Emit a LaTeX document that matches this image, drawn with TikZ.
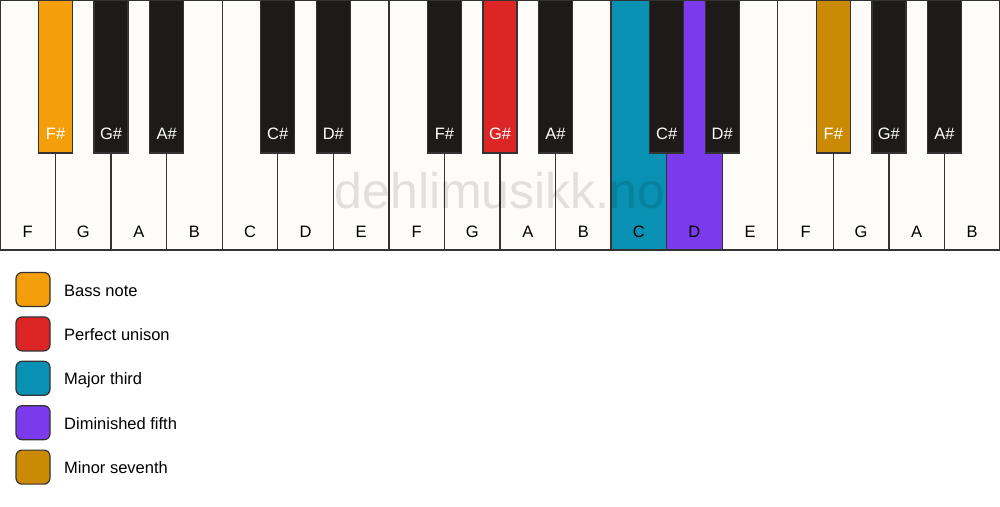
\documentclass[tikz,border=0pt]{standalone}
\usepackage{fontspec}
\setmainfont{Liberation Sans}
\definecolor{wkeyc}{HTML}{FDFCF8}
\definecolor{bkeyc}{HTML}{1C1B1A}
\definecolor{edgec}{HTML}{333333}
\definecolor{bassc}{HTML}{F59E0B}
\definecolor{unisc}{HTML}{DC2626}
\definecolor{thirdc}{HTML}{0891B2}
\definecolor{fifthc}{HTML}{7C3AED}
\definecolor{sevc}{HTML}{CA8A04}
\tikzset{
  wkey/.style={draw=edgec, line width=1.3pt, fill=wkeyc, minimum width=55.556pt, minimum height=250pt, anchor=north west, inner sep=0pt, outer sep=0pt},
  bkey/.style={draw=edgec, line width=1.3pt, fill=bkeyc, minimum width=34pt, minimum height=153pt, anchor=north, inner sep=0pt, outer sep=0pt},
  wlab/.style={font=\fontsize{16.5}{16.5}\selectfont, text=black, inner sep=0pt, anchor=base},
  blab/.style={font=\fontsize{16.5}{16.5}\selectfont, text=white, inner sep=0pt, anchor=base},
  legbox/.style={draw=edgec, line width=1.2pt, rounded corners=6pt, minimum width=34pt, minimum height=34pt, inner sep=0pt},
  legtext/.style={font=\fontsize{16.5}{16.5}\selectfont, anchor=base west, inner sep=0pt},
}
\begin{document}
\begin{tikzpicture}[x=1pt,y=-1pt]
\useasboundingbox (0,0) rectangle (1000,506);
\fill[white] (0,0) rectangle (1000,506);
% white keys
\foreach \n/\c [count=\i from 0] in {F/wkeyc,G/wkeyc,A/wkeyc,B/wkeyc,C/wkeyc,D/wkeyc,E/wkeyc,F/wkeyc,G/wkeyc,A/wkeyc,B/wkeyc,C/thirdc,D/fifthc,E/wkeyc,F/wkeyc,G/wkeyc,A/wkeyc,B/wkeyc}{
  \node[wkey, fill=\c] (w\i) at ({\i*55.5556},0) {};
  \node[wlab] (wl\i) at ({\i*55.5556+27.778},237) {\n};
}
% watermark
\node[font=\fontsize{50}{50}\selectfont, text=black, opacity=0.11, inner sep=0pt, anchor=base] (wm) at (500,208) {dehlimusikk.no};
% black keys
\foreach \b/\n/\c in {1/F\#/bassc,2/G\#/bkeyc,3/A\#/bkeyc,5/C\#/bkeyc,6/D\#/bkeyc,8/F\#/bkeyc,9/G\#/unisc,10/A\#/bkeyc,12/C\#/bkeyc,13/D\#/bkeyc,15/F\#/sevc,16/G\#/bkeyc,17/A\#/bkeyc}{
  \node[bkey, fill=\c] (b\b) at ({\b*55.5556},0) {};
  \node[blab] (bl\b) at ({\b*55.5556},139) {\n};
}
% legend
\foreach \c/\t [count=\k from 0] in {bassc/Bass note,unisc/Perfect unison,thirdc/Major third,fifthc/Diminished fifth,sevc/Minor seventh}{
  \node[legbox, fill=\c] (lb\k) at (33,{289.5+\k*44.4}) {};
  \node[legtext] (lt\k) at (64,{296+\k*44.4}) {\t};
}
\end{tikzpicture}
\end{document}
